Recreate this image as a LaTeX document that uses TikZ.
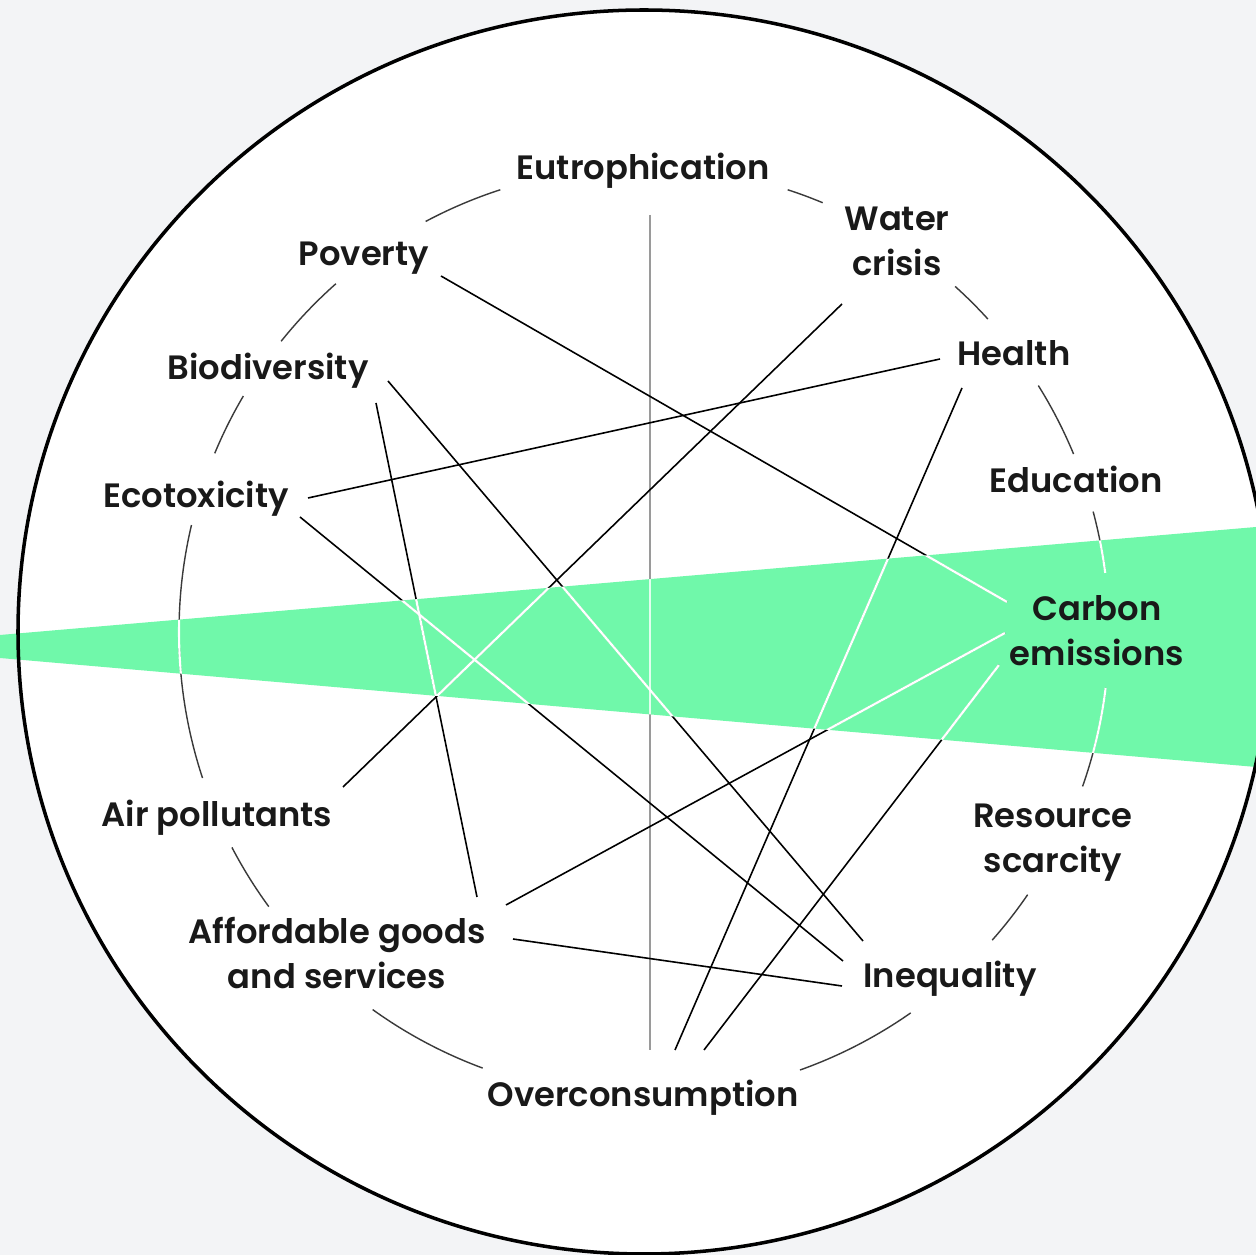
\documentclass[tikz,border=0pt]{standalone}
\usepackage{fontspec}
\setmainfont{Poppins}[UprightFont=* Medium, BoldFont=* SemiBold]
\usetikzlibrary{calc}

\definecolor{paper}{HTML}{F3F4F6}
\definecolor{mint}{HTML}{70F8AA}
\definecolor{rimgray}{HTML}{3A3A3A}
\definecolor{axisgray}{HTML}{9A9A9A}

\tikzset{
	issue/.style={font=\bfseries\fontsize{9.6}{13}\selectfont, text=black!90, inner sep=0pt, align=center, anchor=base},
	link/.style={line width=0.45pt},
	rim/.style={line width=0.4pt},
}

\newcommand\drawweb[3]{%
	\draw[link,#2] ($(eutro.base)+(7,35)$) -- ($(overcons.base)+(7,-57)$);
	\draw[link,#1] ($(poverty.base)+(77,10)$) -- ($(carbon.base)+(-90,-64)$);
	\draw[link,#1] ($(water.base)+(-55,28)$) -- ($(air.base)+(126,-40)$);
	\draw[link,#1] ($(health.base)+(-74,-7)$) -- ($(ecotox.base)+(112,-10)$);
	\draw[link,#1] ($(health.base)+(-52,22)$) -- ($(overcons.base)+(32,-57)$);
	\draw[link,#1] ($(biodiv.base)+(120,1)$) -- ($(inequal.base)+(-87,-47)$);
	\draw[link,#1] ($(biodiv.base)+(108,23)$) -- ($(afford.base)+(140,-92)$);
	\draw[link,#1] ($(ecotox.base)+(104,9)$) -- ($(inequal.base)+(-107,-27)$);
	\draw[link,#1] ($(afford.base)+(169,-84)$) -- ($(carbon.base)+(-92,-33)$);
	\draw[link,#1] ($(afford.base)+(176,-50)$) -- ($(inequal.base)+(-108,-2)$);
	\draw[link,#1] ($(overcons.base)+(61,-57)$) -- ($(carbon.base)+(-98,-1)$);
	\foreach \a/\b in {-118/-108, -72/-67.4, -48/-42.3, -32/-22.5, -15/-7.3, 6.9/19.4,
		34.4/41.5, 55/70.4, 110.3/125.7, 143.8/152.4, 161.7/193.3, 202.6/210.5, 218.7/228.5}
	{
		\draw[rim,#3] (hub) ++(\a:465) arc[start angle=\a, end angle=\b, radius=465];
	}
}

\begin{document}
\begin{tikzpicture}[x=0.01cm, y=-0.01cm]

	\useasboundingbox (0,0) rectangle (1256,1255);
	\fill[paper] (0,0) rectangle (1256,1255);
	\fill[white] (644,632) ellipse [x radius=626, y radius=622];
	\fill[mint] (0,635) -- (1256,527) -- (1256,767) -- (0,658) -- cycle;
	\draw[line width=1pt] (644,632) ellipse [x radius=626, y radius=622];

	\coordinate (hub) at (644,632);

	\node[issue] (eutro) at (643,180) {Eutrophication};
	\node[issue] (water) at (897,276) {Water\\crisis};
	\node[issue] (health) at (1014,366) {Health};
	\node[issue] (educ) at (1076,493) {Education};
	\node[issue] (carbon) at (1097,666) {Carbon\\emissions};
	\node[issue] (resource) at (1053,873) {Resource\\scarcity};
	\node[issue] (inequal) at (950,988) {Inequality};
	\node[issue] (overcons) at (643,1107) {Overconsumption};
	\node[issue] (afford) at (337,989) {Affordable goods\\and services};
	\node[issue] (air) at (217,827) {Air pollutants};
	\node[issue] (ecotox) at (196,508) {Ecotoxicity};
	\node[issue] (biodiv) at (268,380) {Biodiversity};
	\node[issue] (poverty) at (364,266) {Poverty};

	\drawweb{black}{axisgray}{rimgray}
	\begin{scope}
		\clip (0,635) -- (1256,527) -- (1256,767) -- (0,658) -- cycle;
		\drawweb{white, line width=0.65pt}{white!80!mint}{white, line width=0.6pt}
	\end{scope}

\end{tikzpicture}
\end{document}
